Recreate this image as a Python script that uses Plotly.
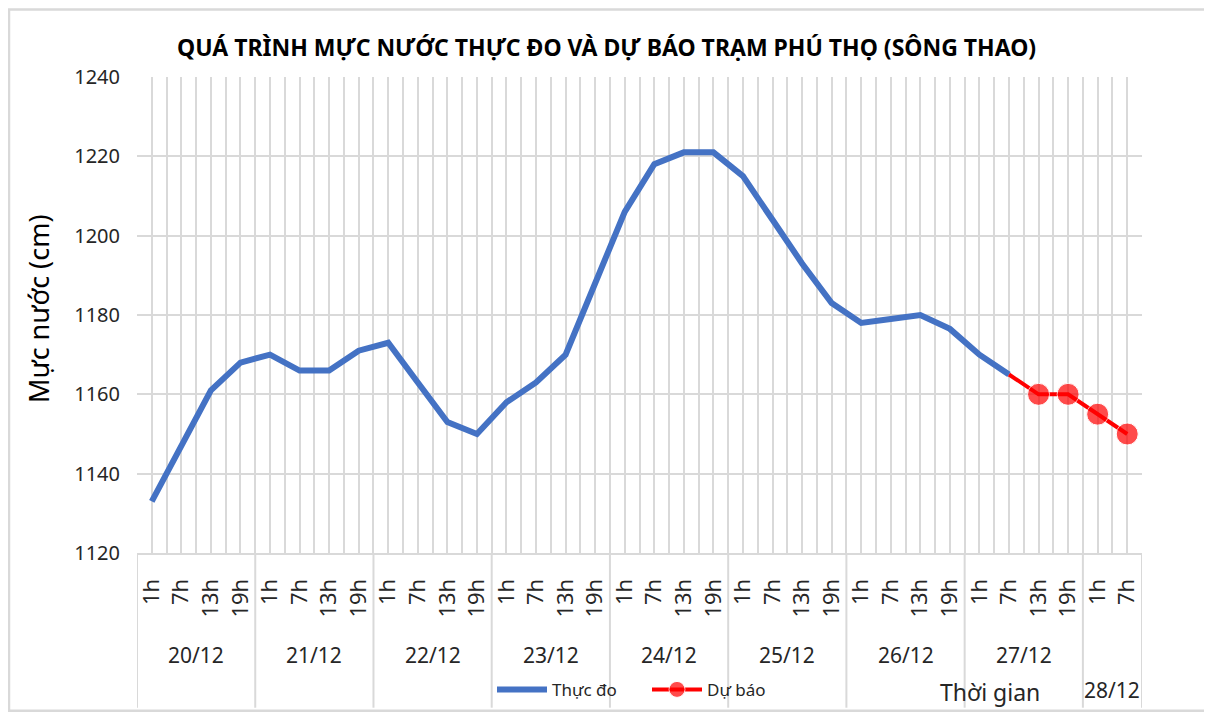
import plotly.graph_objects as go

dates = ["20/12", "21/12", "22/12", "23/12", "24/12", "25/12", "26/12", "27/12", "28/12"]
hours_per_day = [["1h", "7h", "13h", "19h"]] * 8 + [["1h", "7h"]]

hour_labels = [h for hs in hours_per_day for h in hs]
observed = [1133, 1147, 1161, 1168, 1170, 1166, 1166, 1171,
            1173, 1163, 1153, 1150, 1158, 1163, 1170, 1188,
            1206, 1218, 1221, 1221, 1215, 1204, 1193, 1183,
            1178, 1179, 1180, 1176.5, 1170, 1165]
forecast = [1165, 1160, 1160, 1155, 1150]
forecast_start = 29  # index of 27/12 7h

x_all = list(range(len(hour_labels)))
x_obs = x_all[:len(observed)]
x_fc = x_all[forecast_start:forecast_start + len(forecast)]

FONT = "Noto Sans, Open Sans, DejaVu Sans, sans-serif"
GRID = "#d9d9d9"
TXT = "#262626"

# page body has an 8px margin; target coordinates below are screen pixels
OFF = 8
PL, PR, PT, PB = 137, 1142, 77, 557
W, HGT = 1204, 712
PW = PR - PL
H = float(PB - PT)


def px_x(px):
    return (px - PL) / PW


def px_y(py):
    return (PB - py) / H


fig = go.Figure()
fig.add_trace(go.Scatter(x=x_obs, y=observed, mode="lines", name="Thực đo",
                         line=dict(color="#4472C4", width=6)))
fig.add_trace(go.Scatter(x=x_fc, y=forecast, mode="lines+markers", name="Dự báo",
                         line=dict(color="#FF0000", width=4),
                         marker=dict(color="#FF0000", size=[0, 22, 22, 22, 22])))

shapes = []
bounds = [-0.5]
acc = -0.5
for hs in hours_per_day:
    acc += len(hs)
    bounds.append(acc)
for b in bounds:
    shapes.append(dict(type="line", xref="x", yref="paper", x0=b, x1=b, y0=0, y1=px_y(713),
                       line=dict(color=GRID, width=2)))
shapes.append(dict(type="rect", xref="paper", yref="paper",
                   x0=px_x(9), x1=px_x(1209), y0=px_y(716), y1=px_y(9),
                   line=dict(color=GRID, width=2.5)))

annotations = []
start = 0
for d, hs in zip(dates, hours_per_day):
    center = start + (len(hs) - 1) / 2
    ypos = px_y(660) if len(hs) == 4 else px_y(695)
    annotations.append(dict(x=center, y=ypos, xref="x", yref="paper",
                            text=d, showarrow=False, font=dict(family=FONT, size=21, color=TXT),
                            xanchor="center", yanchor="middle"))
    start += len(hs)

annotations.append(dict(x=px_x(990), y=px_y(697), xref="paper", yref="paper",
                        text="Thời gian", showarrow=False,
                        font=dict(family=FONT, size=23, color=TXT),
                        xanchor="center", yanchor="middle"))
annotations.append(dict(x=px_x(38), y=px_y(311), xref="paper", yref="paper",
                        text="Mực nước (cm)", showarrow=False, textangle=-90,
                        font=dict(family=FONT, size=27, color="#000000"),
                        xanchor="center", yanchor="middle"))
annotations.append(dict(x=px_x(606), y=px_y(47), xref="paper", yref="paper",
                        text="<b>QUÁ TRÌNH MỰC NƯỚC THỰC ĐO VÀ DỰ BÁO TRẠM PHÚ THỌ (SÔNG THAO)</b>",
                        showarrow=False, font=dict(family=FONT, size=23, color="#000000"),
                        xanchor="center", yanchor="middle"))

fig.update_layout(
    width=W, height=HGT,
    margin=dict(l=PL - OFF, r=W - (PR - OFF), t=PT - OFF, b=HGT - (PB - OFF)),
    paper_bgcolor="white", plot_bgcolor="white",
    showlegend=True,
    legend=dict(orientation="h", x=px_x(492), y=px_y(695),
                xanchor="left", yanchor="middle", itemwidth=50,
                entrywidth=90, entrywidthmode="pixels",
                font=dict(family=FONT, size=17, color=TXT), bgcolor="rgba(0,0,0,0)"),
    shapes=shapes, annotations=annotations,
    xaxis=dict(range=[-0.5, len(hour_labels) - 0.5], tickmode="array",
               tickvals=x_all, ticktext=hour_labels, tickangle=-90,
               tickfont=dict(family=FONT, size=22, color=TXT),
               showgrid=True, gridcolor=GRID, gridwidth=1.5,
               showline=True, linecolor=GRID, linewidth=2,
               ticks="", ticklabelstandoff=15, zeroline=False,
               minor=dict(tickmode="linear", tick0=-0.5, dtick=1, showgrid=True,
                          gridcolor=GRID, gridwidth=1.5)),
    yaxis=dict(range=[1120, 1240], dtick=20, tick0=1120,
               tickfont=dict(family=FONT, size=20, color=TXT),
               showgrid=True, gridcolor=GRID, gridwidth=1.5,
               ticks="", ticklabelstandoff=16, zeroline=False, showline=False),
)

fig.write_html("out.html")
